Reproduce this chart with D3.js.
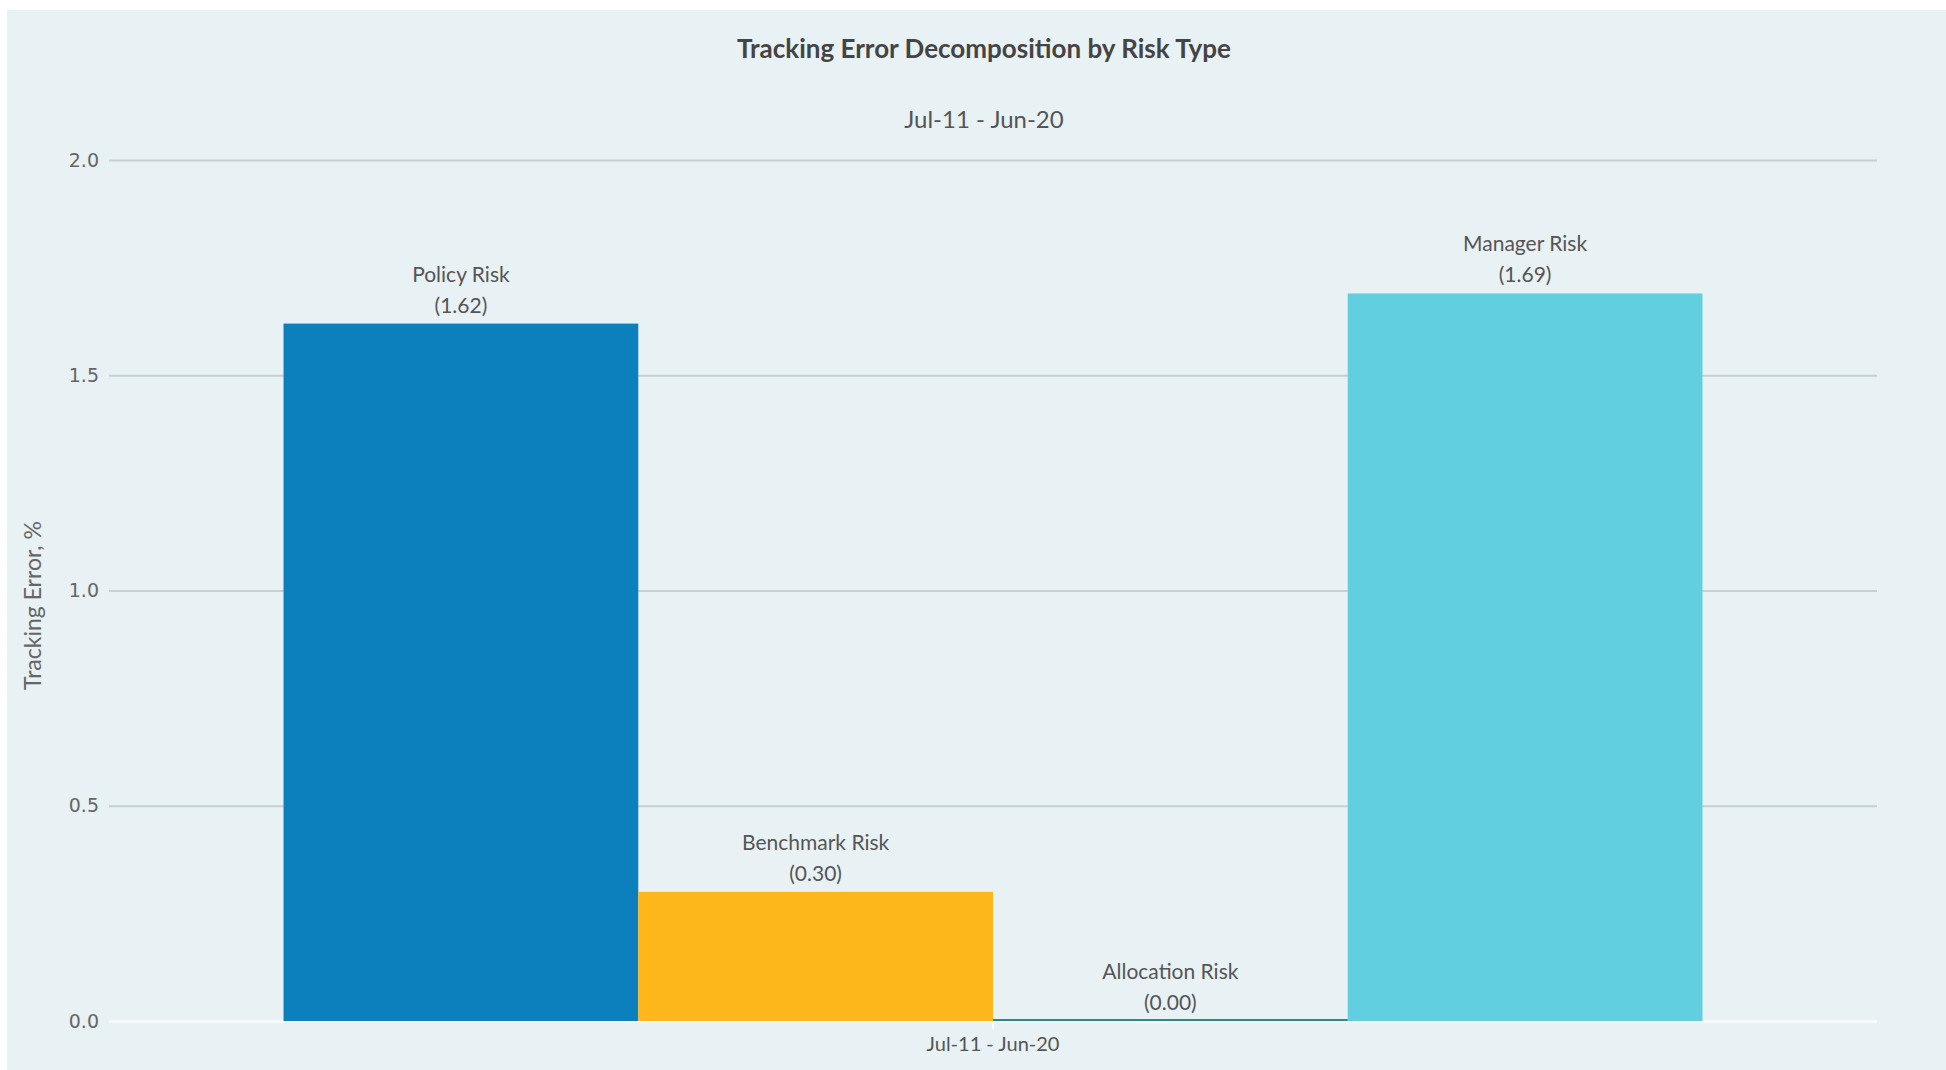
<!DOCTYPE html>
<html>
<head>
<meta charset="utf-8">
<script src="https://cdn.jsdelivr.net/npm/d3@7"></script>
<style>
  html, body { margin: 0; padding: 0; background: #ffffff; }
  svg { display: block; }
</style>
</head>
<body>
<div id="chart"></div>
<script>
// data
const categories = ["Jul-11 - Jun-20"];
const seriesNames = ["Policy Risk", "Benchmark Risk", "Allocation Risk", "Manager Risk"];
const seriesValues = [1.62, 0.30, 0.00, 1.69];
const yTicks = [0, 0.5, 1.0, 1.5, 2.0];
const seriesColors = ["#0b80bd", "#fdb71b", "#2e8b80", "#61cfdf"];

const chartTitle = "Tracking Error Decomposition by Risk Type";
const chartSubtitle = "Jul-11 - Jun-20";
const yTitle = "Tracking Error, %";

const width = 1946, height = 1070;
const margin = { top: 160, right: 69, bottom: 49, left: 109 };
const labelFont = "Lato, 'Open Sans', sans-serif";

const svg = d3.select("#chart").append("svg").attr("width", width).attr("height", height);

// panel background
svg.append("rect").attr("x", 7).attr("y", 10).attr("width", width - 7).attr("height", height - 10).attr("fill", "#e8f1f4");

const y = d3.scaleLinear().domain([0, 2]).range([height - margin.bottom, margin.top]);
const x0 = d3.scaleBand().domain(categories).range([margin.left, width - margin.right]).paddingOuter(0.123).paddingInner(0);
const x1 = d3.scaleBand().domain(seriesNames).range([0, x0.bandwidth()]).padding(0);

// grid + y axis
const yAxis = svg.append("g").attr("transform", `translate(${margin.left},0)`)
    .call(d3.axisLeft(y).tickValues(yTicks).tickFormat(d3.format(".1f")).tickSize(-(width - margin.left - margin.right)).tickPadding(10));
yAxis.select(".domain").remove();
yAxis.selectAll(".tick line").attr("stroke", d => d === 0 ? "#ffffff" : "#c9cfd1").attr("stroke-width", 2);
yAxis.selectAll(".tick text").attr("fill", "#666").style("font-family", "'DejaVu Sans', Verdana, sans-serif").style("font-size", "19px");

// bars
const groups = svg.append("g").selectAll("g").data(categories).join("g").attr("transform", d => `translate(${x0(d)},0)`);

const barData = seriesNames.map((name, i) => ({ name, value: seriesValues[i], color: seriesColors[i] }));

groups.selectAll("rect").data(barData).join("rect")
    .attr("x", d => x1(d.name))
    .attr("width", x1.bandwidth())
    .attr("y", d => Math.min(y(d.value), y(0) - 2))
    .attr("height", d => Math.max(y(0) - y(d.value), 2))
    .attr("fill", d => d.color);

// bar labels
const lbl = groups.selectAll("text.bar-label").data(barData).join("text").attr("class", "bar-label")
    .attr("text-anchor", "middle")
    .attr("fill", "#555")
    .style("font-family", labelFont).style("font-size", "21px");
lbl.append("tspan").attr("x", d => x1(d.name) + x1.bandwidth() / 2).attr("y", d => y(d.value) - 42).text(d => d.name);
lbl.append("tspan").attr("x", d => x1(d.name) + x1.bandwidth() / 2).attr("y", d => y(d.value) - 11).text(d => `(${d.value.toFixed(2)})`);

// category axis
const xAxis = svg.append("g").attr("transform", `translate(0,${y(0)})`)
    .call(d3.axisBottom(x0).tickSize(8).tickPadding(8));
xAxis.select(".domain").remove();
xAxis.selectAll(".tick line").attr("stroke", "#ffffff").attr("stroke-width", 2);
xAxis.selectAll(".tick text").attr("fill", "#555").style("font-family", labelFont).style("font-size", "20px");

// titles
svg.append("text").attr("x", 984).attr("y", 58).attr("text-anchor", "middle")
    .attr("fill", "#444").style("font-family", labelFont).style("font-weight", "bold").style("font-size", "26px")
    .text(chartTitle);
svg.append("text").attr("x", 984).attr("y", 128).attr("text-anchor", "middle")
    .attr("fill", "#555").style("font-family", labelFont).style("font-size", "24px")
    .text(chartSubtitle);
svg.append("text").attr("transform", `translate(41,${(y(0) + y(2)) / 2 + 15}) rotate(-90)`).attr("text-anchor", "middle")
    .attr("fill", "#666").style("font-family", labelFont).style("font-size", "23px")
    .text(yTitle);
</script>
</body>
</html>
